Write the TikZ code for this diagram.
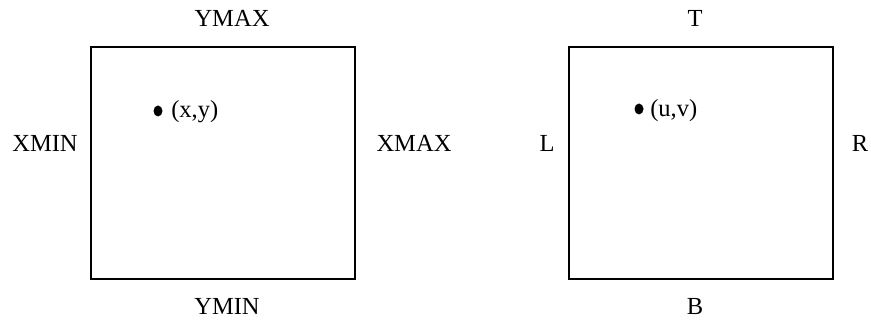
\documentclass[tikz,border=0pt]{standalone}
\usepackage{fontspec}
\setmainfont{Liberation Serif}
\begin{document}
\begin{tikzpicture}[x=0.75pt,y=-0.75pt,
  lbl/.style={inner sep=0pt,anchor=base,font=\fontsize{18.4}{22}\selectfont},
  pt/.style={inner sep=0pt,anchor=base west,font=\fontsize{18.4}{22}\selectfont}]
\useasboundingbox (0,0) rectangle (871,320);
% window
\draw[line width=2pt] (91,47) rectangle (355,279);
\node[lbl] (ymax) at (232,27) {YMAX};
\node[lbl] (ymin) at (227,315) {YMIN};
\node[lbl] (xmin) at (45,152) {XMIN};
\node[lbl] (xmax) at (414,152) {XMAX};
\fill (158,111) ellipse (4.5 and 5.5);
\node[pt] (xy) at (171,118) {(x,y)};
% viewport
\draw[line width=2pt] (569,47) rectangle (833,279);
\node[lbl] (top) at (695,27) {T};
\node[lbl] (bot) at (695,315) {B};
\node[lbl] (lft) at (547,152) {L};
\node[lbl] (rgt) at (860,152) {R};
\fill (639,109) ellipse (4.5 and 5.5);
\node[pt] (uv) at (650,117) {(u,v)};
\end{tikzpicture}
\end{document}
